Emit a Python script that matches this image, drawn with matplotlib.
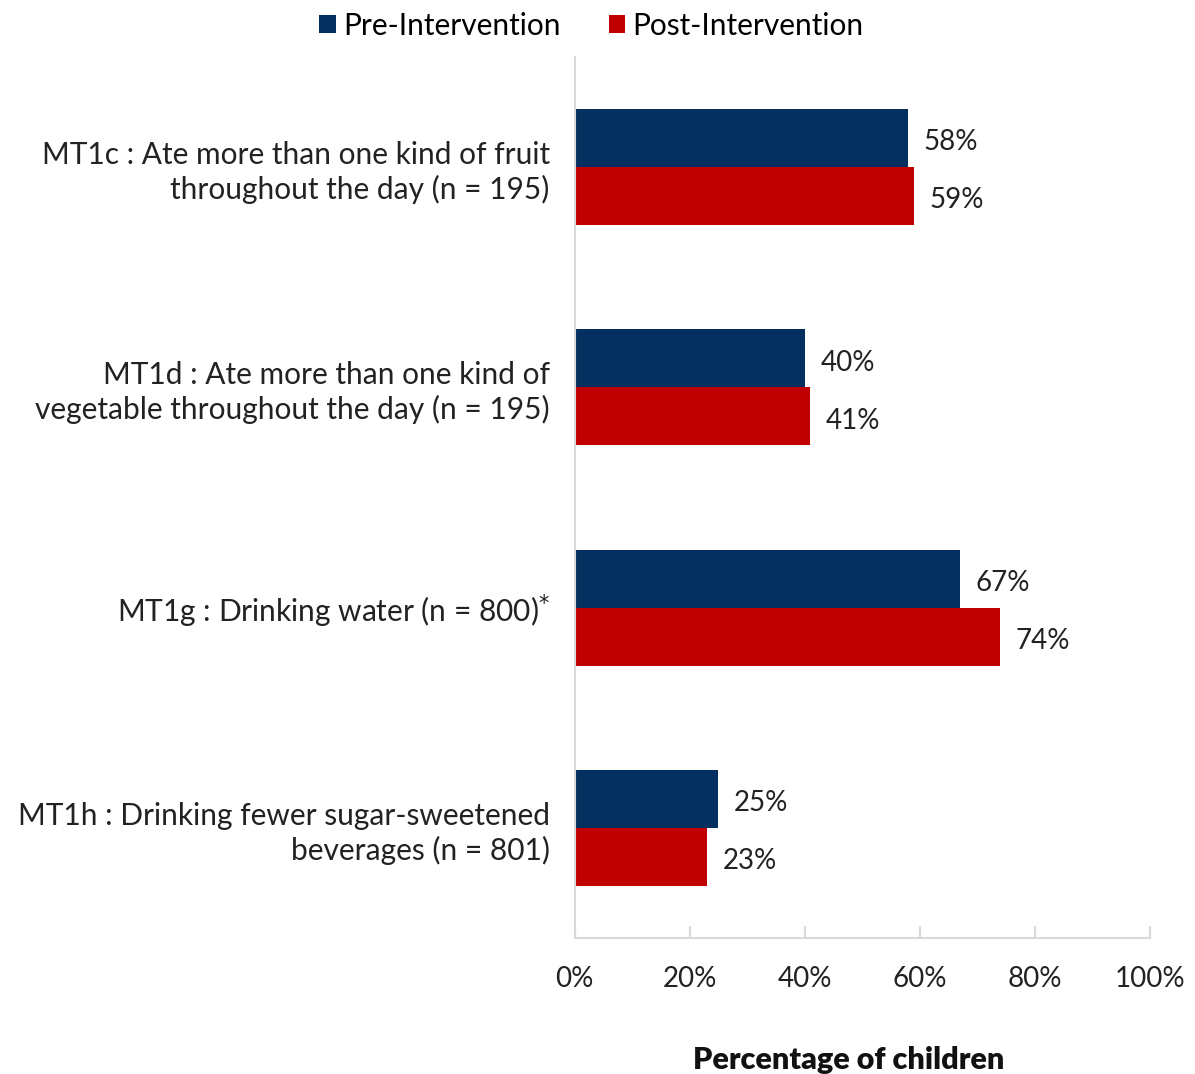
import matplotlib.pyplot as plt
import numpy as np

plt.rcParams['font.family'] = ['Lato', 'DejaVu Sans']

# Data
categories = [
    "MT1c : Ate more than one kind of fruit\nthroughout the day (n = 195)",
    "MT1d : Ate more than one kind of\nvegetable throughout the day (n = 195)",
    "MT1g : Drinking water (n = 800)$^{*}$",
    "MT1h : Drinking fewer sugar-sweetened\nbeverages (n = 801)",
]
pre = [58, 40, 67, 25]
post = [59, 41, 74, 23]
xticks = [0, 20, 40, 60, 80, 100]

navy = '#03305F'
red = '#C00000'
grey = '#D9D9D9'
txt = '#222222'

fig = plt.figure(figsize=(11.95, 10.74), dpi=100)
ax = fig.add_axes([0.481, 0.1266, 0.481, 0.8204])

y = np.arange(len(categories))
h = 0.263
ax.barh(y - h / 2, pre, height=h, color=navy, label='Pre-Intervention')
ax.barh(y + h / 2, post, height=h, color=red, label='Post-Intervention')

for yi, v in zip(y, pre):
    ax.text(v + 2.7, yi - h / 2 + 0.02, f'{v}%', va='center', ha='left', fontsize=20, color=txt)
for yi, v in zip(y, post):
    ax.text(v + 2.7, yi + h / 2 + 0.02, f'{v}%', va='center', ha='left', fontsize=20, color=txt)

ax.set_xlim(0, 100)
ax.set_ylim(3.5, -0.5)
ax.set_xticks(xticks)
ax.set_xticklabels([f'{t}%' for t in xticks], fontsize=20, color=txt)
ax.set_yticks(y)
ax.set_yticklabels(categories, fontsize=21.5, color=txt, linespacing=1.25)
ax.tick_params(axis='y', length=0, pad=18)
ax.tick_params(axis='x', direction='in', length=9, color=grey, width=1.5, pad=20)

for s in ['top', 'right']:
    ax.spines[s].set_visible(False)
for s in ['left', 'bottom']:
    ax.spines[s].set_color(grey)
    ax.spines[s].set_linewidth(1.5)

fig.text(0.71, 0.0, 'Percentage of children', ha='center', va='bottom',
         fontsize=22, fontweight='heavy', color='#111111')

fig.legend(loc='upper center', bbox_to_anchor=(0.495, 1.014), ncol=2, frameon=False,
           fontsize=21.5, handlelength=0.55, handleheight=0.55, handletextpad=0.25,
           columnspacing=1.6)

fig.savefig('out.png', dpi=100)
